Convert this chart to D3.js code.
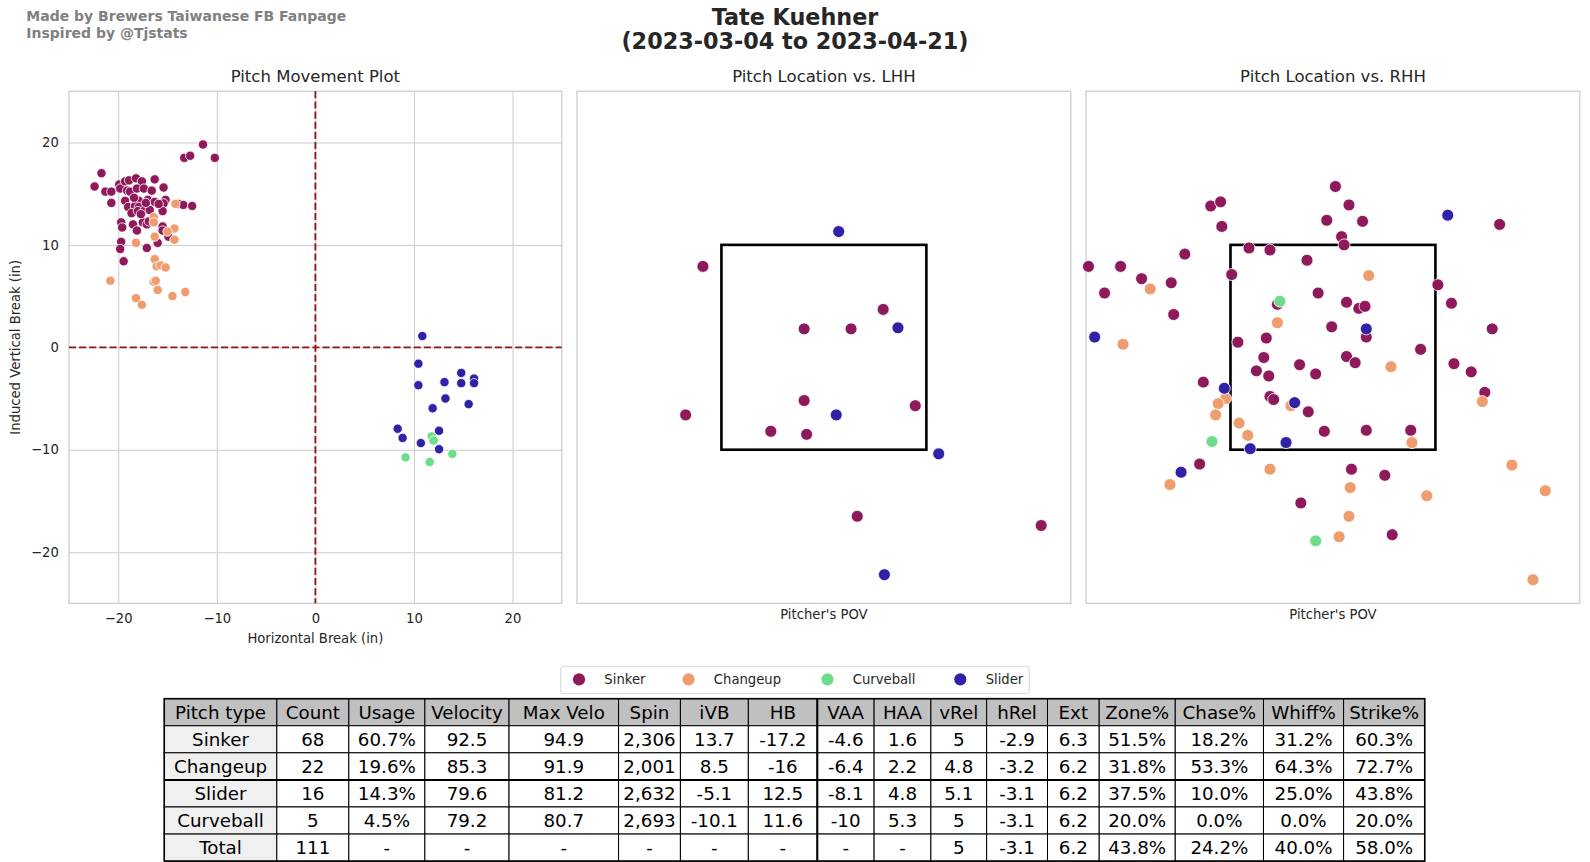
<!DOCTYPE html>
<html>
<head>
<meta charset="utf-8">
<script src="https://cdn.jsdelivr.net/npm/d3@7"></script>
<style>
  body { margin: 0; background: #fff; }
  text { font-family: "DejaVu Sans", sans-serif; }
</style>
</head>
<body>
<svg width="1590" height="862"></svg>
<script>
// data

var pitchTypes = ["Sinker", "Changeup", "Curveball", "Slider"];
var pitchColors = ["#8f1a5b", "#ef9d6e", "#6fdc8c", "#3022a6"];

// movement: [horizontal break, induced vertical break] in inches
var moveSinker = [
  [-22.4, 15.7], [-21.7, 17.0], [-21.3, 15.2], [-20.7, 15.2], [-20.7, 14.1],
  [-19.9, 15.9], [-19.8, 15.5], [-19.3, 16.2], [-18.9, 16.3], [-18.2, 16.5],
  [-17.6, 16.2], [-19.1, 15.3], [-18.8, 15.2], [-18.1, 15.5], [-17.4, 15.5],
  [-16.6, 15.3], [-16.3, 16.4], [-15.4, 15.6], [-19.3, 14.3], [-17.9, 14.3],
  [-17.0, 14.4], [-16.3, 14.2], [-15.2, 14.4], [-15.4, 14.05], [-13.9, 14.0],
  [-13.4, 13.9], [-12.5, 13.8], [-19.0, 13.7], [-18.3, 13.8], [-17.9, 13.7],
  [-18.65, 13.1], [-18.0, 13.3], [-17.3, 13.4], [-16.8, 13.4], [-15.5, 13.3],
  [-19.7, 12.2], [-19.6, 11.7], [-18.5, 12.0], [-18.1, 11.4], [-17.5, 12.2],
  [-17.1, 12.0], [-15.5, 11.8], [-15.5, 11.4], [-14.9, 10.8], [-16.0, 10.2],
  [-17.1, 9.7], [-19.7, 10.3], [-19.8, 9.6], [-19.45, 8.4], [-13.3, 18.5],
  [-12.7, 18.7], [-11.4, 19.8], [-10.2, 18.5], [-17.7, 13.0], [-16.9, 12.3],
  [-15.9, 14.0], [-18.4, 14.6], [-17.2, 14.1]
];
var moveChangeup = [
  [-16.4, 12.7], [-16.4, 12.2], [-14.2, 14.0], [-16.3, 10.8], [-14.3, 11.6],
  [-14.3, 10.5], [-18.2, 10.2], [-16.3, 8.6], [-16.1, 7.9], [-15.7, 8.0],
  [-15.2, 7.8], [-20.8, 6.5], [-16.4, 6.4], [-16.0, 5.6], [-18.2, 4.8],
  [-17.6, 4.15], [-14.5, 5.0], [-13.2, 5.4], [-16.2, 6.5], [-15.0, 11.3]
];
var moveCurveball = [
  [11.8, -8.7], [12.0, -9.1], [9.15, -10.75], [11.6, -11.2], [13.9, -10.4]
];
var moveSlider = [
  [10.85, 1.1], [10.45, -1.6], [10.45, -3.7], [13.1, -3.4], [14.8, -2.5],
  [14.8, -3.5], [16.1, -3.05], [16.1, -3.5], [13.2, -5.0], [15.55, -5.55],
  [11.9, -5.95], [8.35, -7.95], [8.85, -8.85], [10.7, -9.35], [12.55, -8.15],
  [12.55, -9.95]
];

// location vs LHH: [plate x, plate z] in feet
var lhhSinker = [
  [-0.98, 3.29], [-1.12, 1.84], [-0.16, 2.68], [0.22, 2.68], [0.48, 2.87],
  [-0.16, 1.98], [0.74, 1.93], [-0.43, 1.68], [-0.14, 1.65], [0.27, 0.85],
  [1.76, 0.76]
];
var lhhChangeup = [];
var lhhCurveball = [];
var lhhSlider = [
  [0.12, 3.63], [0.6, 2.69], [0.1, 1.84], [0.93, 1.46], [0.49, 0.28]
];

// location vs RHH
var rhhSinker = [
  [0.02, 4.07], [0.13, 3.89], [-0.05, 3.74], [0.24, 3.73], [0.07, 3.58],
  [0.09, 3.5], [-0.99, 3.88], [-0.91, 3.92], [-0.9, 3.68], [-1.2, 3.41],
  [-1.98, 3.29], [-1.72, 3.29], [-1.55, 3.17], [-1.85, 3.03], [-1.31, 3.13],
  [-1.29, 2.82], [-0.68, 3.47], [-0.51, 3.45], [-0.21, 3.35], [-0.82, 3.21],
  [0.85, 3.11], [0.96, 2.93], [1.35, 3.7], [-0.12, 3.03], [0.11, 2.94],
  [0.21, 2.88], [0.26, 2.9], [-0.45, 2.92], [-0.01, 2.7], [0.27, 2.6],
  [1.29, 2.68], [-0.54, 2.59], [-0.77, 2.55], [-0.56, 2.4], [0.11, 2.41],
  [0.18, 2.35], [-0.27, 2.33], [0.71, 2.48], [-0.62, 2.27], [-0.52, 2.22],
  [-0.14, 2.24], [0.98, 2.34], [1.12, 2.26], [-1.05, 2.16], [1.23, 2.06],
  [-0.51, 2.02], [-0.48, 1.99], [-0.2, 1.87], [-0.07, 1.68], [0.27, 1.69],
  [0.63, 1.69], [-1.08, 1.36], [0.15, 1.31], [0.42, 1.25], [-0.26, 0.98],
  [0.48, 0.67]
];
var rhhChangeup = [
  [0.29, 3.2], [-1.48, 3.07], [-1.7, 2.53], [-0.45, 2.74], [0.47, 2.31],
  [-0.87, 2.0], [-0.93, 1.95], [-0.95, 1.84], [-0.34, 1.93], [1.21, 1.97],
  [-0.76, 1.76], [-0.69, 1.64], [0.64, 1.57], [-0.51, 1.31], [-1.32, 1.16],
  [0.14, 1.13], [0.76, 1.05], [1.45, 1.35], [1.72, 1.1], [0.13, 0.85],
  [0.05, 0.65], [1.62, 0.23]
];
var rhhCurveball = [
  [-0.43, 2.95], [-0.98, 1.58], [-0.14, 0.61]
];
var rhhSlider = [
  [0.93, 3.79], [-1.93, 2.6], [0.27, 2.68], [-0.88, 2.1], [-0.31, 1.96],
  [-0.38, 1.57], [-0.67, 1.51], [-1.23, 1.28]
];

// strike zone and axis limits
var zoneX = [-0.83, 0.83],
  zoneZ = [1.5, 3.5];
var moveTicks = [-20, -10, 0, 10, 20];

// table
var tableColumns = ["Pitch type", "Count", "Usage", "Velocity", "Max Velo", "Spin", "iVB", "HB",
  "VAA", "HAA", "vRel", "hRel", "Ext", "Zone%", "Chase%", "Whiff%", "Strike%"];
var tableRows = [
  ["Sinker", "68", "60.7%", "92.5", "94.9", "2,306", "13.7", "-17.2", "-4.6", "1.6", "5", "-2.9", "6.3", "51.5%", "18.2%", "31.2%", "60.3%"],
  ["Changeup", "22", "19.6%", "85.3", "91.9", "2,001", "8.5", "-16", "-6.4", "2.2", "4.8", "-3.2", "6.2", "31.8%", "53.3%", "64.3%", "72.7%"],
  ["Slider", "16", "14.3%", "79.6", "81.2", "2,632", "-5.1", "12.5", "-8.1", "4.8", "5.1", "-3.1", "6.2", "37.5%", "10.0%", "25.0%", "43.8%"],
  ["Curveball", "5", "4.5%", "79.2", "80.7", "2,693", "-10.1", "11.6", "-10", "5.3", "5", "-3.1", "6.2", "20.0%", "0.0%", "0.0%", "20.0%"],
  ["Total", "111", "-", "-", "-", "-", "-", "-", "-", "-", "5", "-3.1", "6.2", "43.8%", "24.2%", "40.0%", "58.0%"]
];

// presets

// layout below is measured on a 1568-wide copy, so scale it up to the real width
var root = d3.select("svg").append("g")
  .attr("transform", "scale(" + 1590 / 1568 + ")");
var color = d3.scaleOrdinal().domain(pitchTypes).range(pitchColors);
var textColor = "#262626",
  spineColor = "#cccccc";

function toPoints(sets) {
  // sets ordered like pitchTypes
  var out = [];
  sets.forEach(function(arr, i) {
    arr.forEach(function(p) {
      out.push({ type: pitchTypes[i], x: p[0], y: p[1] });
    });
  });
  return out;
}

// header

root.append("text").attr("x", 26).attr("y", 21)
  .attr("font-size", 13.8).attr("font-weight", "bold").attr("fill", "#808080")
  .text("Made by Brewers Taiwanese FB Fanpage");
root.append("text").attr("x", 26).attr("y", 37)
  .attr("font-size", 13.8).attr("font-weight", "bold").attr("fill", "#808080")
  .text("Inspired by @Tjstats");

root.append("text").attr("x", 784).attr("y", 25).attr("text-anchor", "middle")
  .attr("font-size", 22).attr("font-weight", "bold").attr("fill", textColor)
  .text("Tate Kuehner");
root.append("text").attr("x", 784).attr("y", 48).attr("text-anchor", "middle")
  .attr("font-size", 22).attr("font-weight", "bold").attr("fill", textColor)
  .text("(2023-03-04 to 2023-04-21)");

// movement plot

function renderMovement() {
  var left = 68, right = 554, top = 90, bottom = 595;
  var x = d3.scaleLinear().domain([-25, 25]).range([left, right]);
  var y = d3.scaleLinear().domain([-25, 25]).range([bottom, top]);

  root.append("text").attr("x", (left + right) / 2).attr("y", 81)
    .attr("text-anchor", "middle").attr("font-size", 16.3).attr("fill", textColor)
    .text("Pitch Movement Plot");

  var gx = root.append("g").attr("transform", "translate(0," + bottom + ")")
    .call(d3.axisBottom(x).tickValues(moveTicks).tickSize(-(bottom - top)).tickPadding(10));
  var gy = root.append("g").attr("transform", "translate(" + left + ",0)")
    .call(d3.axisLeft(y).tickValues(moveTicks).tickSize(-(right - left)).tickPadding(10));
  [gx, gy].forEach(function(g) {
    g.select(".domain").remove();
    g.selectAll(".tick line").attr("stroke", spineColor).attr("stroke-width", 1);
    g.selectAll(".tick text").attr("fill", textColor).attr("font-size", 13)
      .attr("font-family", "DejaVu Sans");
  });

  root.append("rect").attr("x", left).attr("y", top)
    .attr("width", right - left).attr("height", bottom - top)
    .attr("fill", "none").attr("stroke", spineColor).attr("stroke-width", 1.25);

  root.append("line").attr("x1", x(0)).attr("x2", x(0)).attr("y1", top).attr("y2", bottom)
    .attr("stroke", "#8b1a1a").attr("stroke-width", 1.8).attr("stroke-dasharray", "7,3");
  root.append("line").attr("x1", left).attr("x2", right).attr("y1", y(0)).attr("y2", y(0))
    .attr("stroke", "#8b1a1a").attr("stroke-width", 1.8).attr("stroke-dasharray", "7,3");

  var pts = toPoints([moveSinker, moveChangeup, moveCurveball, moveSlider]);
  root.append("g").selectAll("circle").data(pts).enter().append("circle")
    .attr("cx", function(d) { return x(d.x); })
    .attr("cy", function(d) { return y(d.y); })
    .attr("r", 4.6)
    .attr("fill", function(d) { return color(d.type); })
    .attr("stroke", "#fff").attr("stroke-width", 0.8);

  root.append("text").attr("x", (left + right) / 2).attr("y", 634)
    .attr("text-anchor", "middle").attr("font-size", 13).attr("fill", textColor)
    .text("Horizontal Break (in)");
  root.append("text")
    .attr("transform", "translate(20," + (top + bottom) / 2 + ") rotate(-90)")
    .attr("text-anchor", "middle").attr("font-size", 13).attr("fill", textColor)
    .text("Induced Vertical Break (in)");
}

// location plots

function renderLocation(left, title, sets) {
  var right = left + 487, top = 90, bottom = 595;
  var x = d3.scaleLinear().domain([-2, 2]).range([left, right]);
  var y = d3.scaleLinear().domain([0, 5]).range([bottom, top]);

  root.append("text").attr("x", (left + right) / 2).attr("y", 81)
    .attr("text-anchor", "middle").attr("font-size", 16.3).attr("fill", textColor)
    .text(title);

  root.append("rect").attr("x", left).attr("y", top)
    .attr("width", right - left).attr("height", bottom - top)
    .attr("fill", "none").attr("stroke", spineColor).attr("stroke-width", 1.25);

  root.append("rect")
    .attr("x", x(zoneX[0])).attr("y", y(zoneZ[1]))
    .attr("width", x(zoneX[1]) - x(zoneX[0]))
    .attr("height", y(zoneZ[0]) - y(zoneZ[1]))
    .attr("fill", "none").attr("stroke", "#000").attr("stroke-width", 2.6);

  var pts = toPoints(sets);
  root.append("g").selectAll("circle").data(pts).enter().append("circle")
    .attr("cx", function(d) { return x(d.x); })
    .attr("cy", function(d) { return y(d.y); })
    .attr("r", 5.9)
    .attr("fill", function(d) { return color(d.type); })
    .attr("stroke", "#fff").attr("stroke-width", 0.8);

  root.append("text").attr("x", (left + right) / 2).attr("y", 610)
    .attr("text-anchor", "middle").attr("font-size", 13).attr("fill", textColor)
    .text("Pitcher's POV");
}

// legend

function renderLegend() {
  var xs = [571, 679, 816, 947];
  root.append("rect").attr("x", 553).attr("y", 657).attr("width", 462).attr("height", 27)
    .attr("rx", 3).attr("fill", "#fff").attr("stroke", "#d6d6d6").attr("stroke-width", 1);
  var item = root.append("g").selectAll("g").data(pitchTypes).enter().append("g")
    .attr("transform", function(d, i) { return "translate(" + xs[i] + ",670)"; });
  item.append("circle").attr("r", 6).attr("fill", function(d) { return color(d); });
  item.append("text").attr("x", 25).attr("y", 5).attr("font-size", 13)
    .attr("fill", textColor).text(function(d) { return d; });
}

// table

function renderTable() {
  var colEdges = [162, 273, 344, 419, 502, 610, 671, 738, 806, 862, 918, 973, 1033, 1084, 1159, 1246, 1325, 1405];
  var top = 689, rowH = 26.7;
  var g = root.append("g");
  var allRows = [tableColumns].concat(tableRows);

  allRows.forEach(function(row, r) {
    row.forEach(function(cell, c) {
      var fill = r === 0 ? "#c0c0c0" : (c === 0 ? "#f0f0f0" : "#fff");
      g.append("rect")
        .attr("x", colEdges[c]).attr("y", top + r * rowH)
        .attr("width", colEdges[c + 1] - colEdges[c]).attr("height", rowH)
        .attr("fill", fill).attr("stroke", "#000").attr("stroke-width", 1);
      g.append("text")
        .attr("x", (colEdges[c] + colEdges[c + 1]) / 2)
        .attr("y", top + r * rowH + rowH / 2 + 6.5)
        .attr("text-anchor", "middle")
        .attr("font-family", "Noto Sans, sans-serif")
        .attr("font-size", 18).attr("fill", "#000")
        .text(cell);
    });
  });

  var bottom = top + allRows.length * rowH;
  // heavier separators
  g.append("line").attr("x1", colEdges[0]).attr("x2", colEdges[colEdges.length - 1])
    .attr("y1", top + 3 * rowH).attr("y2", top + 3 * rowH)
    .attr("stroke", "#000").attr("stroke-width", 2);
  g.append("line").attr("x1", colEdges[8]).attr("x2", colEdges[8])
    .attr("y1", top).attr("y2", bottom)
    .attr("stroke", "#000").attr("stroke-width", 2);
  g.append("rect").attr("x", colEdges[0]).attr("y", top)
    .attr("width", colEdges[colEdges.length - 1] - colEdges[0]).attr("height", bottom - top)
    .attr("fill", "none").attr("stroke", "#000").attr("stroke-width", 1.5);
}

renderMovement();
renderLocation(569, "Pitch Location vs. LHH", [lhhSinker, lhhChangeup, lhhCurveball, lhhSlider]);
renderLocation(1071, "Pitch Location vs. RHH", [rhhSinker, rhhChangeup, rhhCurveball, rhhSlider]);
renderLegend();
renderTable();
</script>
</body>
</html>
